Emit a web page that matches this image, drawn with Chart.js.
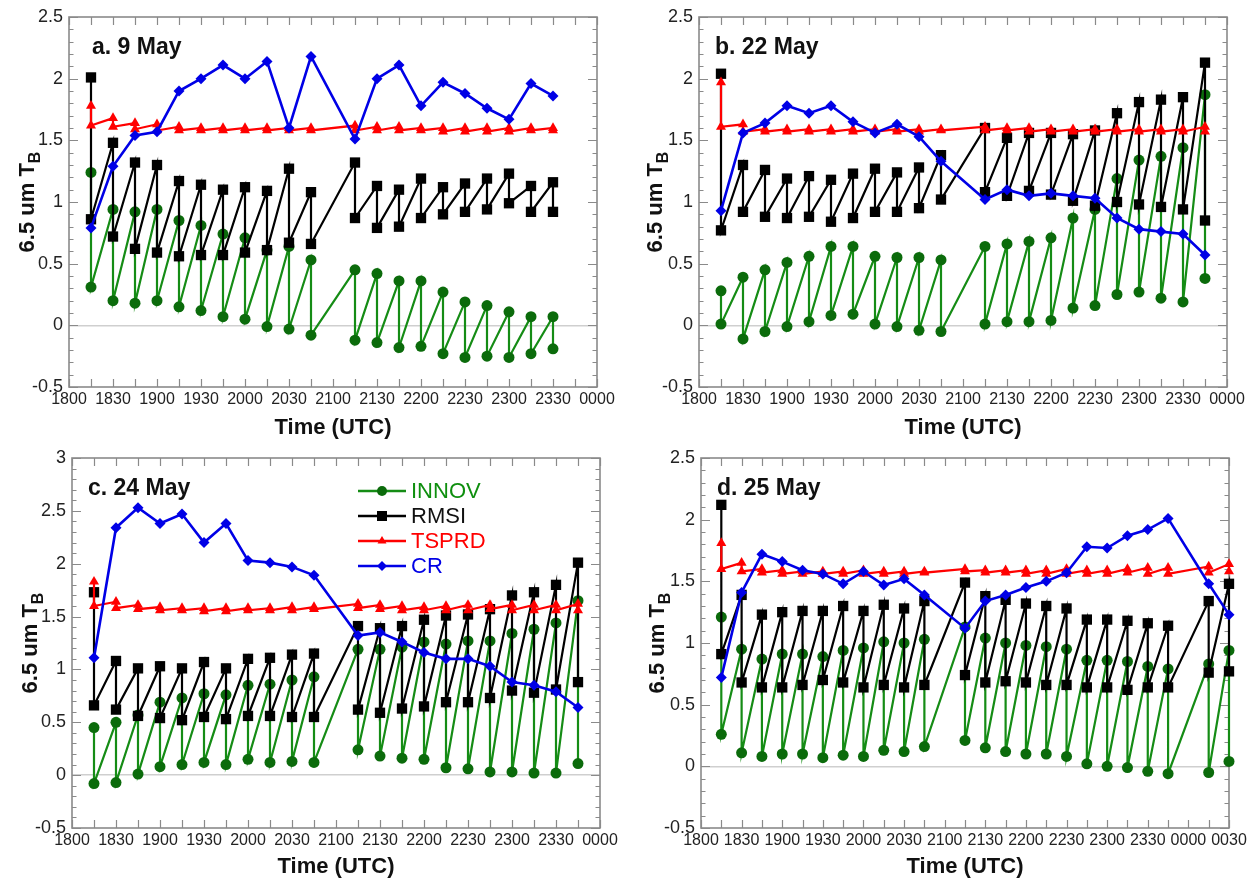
<!DOCTYPE html>
<html>
<head>
<meta charset="utf-8">
<script src="https://cdn.jsdelivr.net/npm/chart.js@4.4.1/dist/chart.umd.min.js"></script>
<style>
html,body{margin:0;padding:0;background:#fff;}
#wrap{position:relative;width:1255px;height:881px;overflow:hidden;font-family:'Liberation Sans',Arial,Helvetica,sans-serif;}
canvas{position:absolute;}
.ptitle{position:absolute;font-weight:bold;font-size:23px;line-height:23px;color:#111;white-space:nowrap;}
.xtitle{position:absolute;width:300px;height:26px;line-height:26px;text-align:center;font-weight:bold;font-size:22px;color:#111;white-space:nowrap;}
.ytitle{position:absolute;width:240px;height:30px;line-height:30px;text-align:center;font-weight:bold;font-size:22px;color:#111;transform:rotate(-90deg);white-space:nowrap;}
.ytitle sub{font-size:16px;vertical-align:-6px;line-height:0;}
.legsvg{position:absolute;}
.legtxt{position:absolute;font-size:22px;height:26px;line-height:26px;white-space:nowrap;}
</style>
</head>
<body>
<div id="wrap">
  <canvas id="cA" width="627" height="440" style="left:0px;top:0px;width:627px;height:440px"></canvas>
  <canvas id="cB" width="628" height="440" style="left:627px;top:0px;width:628px;height:440px"></canvas>
  <canvas id="cC" width="627" height="441" style="left:0px;top:440px;width:627px;height:441px"></canvas>
  <canvas id="cD" width="628" height="441" style="left:627px;top:440px;width:628px;height:441px"></canvas>

  <div class="ptitle" style="left:92px;top:35px">a. 9 May</div>
  <div class="ptitle" style="left:715px;top:35px">b. 22 May</div>
  <div class="ptitle" style="left:88px;top:476px">c. 24 May</div>
  <div class="ptitle" style="left:717px;top:476px">d. 25 May</div>

  <div class="xtitle" style="left:183px;top:414px">Time (UTC)</div>
  <div class="xtitle" style="left:813px;top:414px">Time (UTC)</div>
  <div class="xtitle" style="left:186px;top:853px">Time (UTC)</div>
  <div class="xtitle" style="left:815px;top:853px">Time (UTC)</div>

  <div class="ytitle" style="left:-93px;top:187px">6.5 um T<sub>B</sub></div>
  <div class="ytitle" style="left:535px;top:187px">6.5 um T<sub>B</sub></div>
  <div class="ytitle" style="left:-90px;top:628px">6.5 um T<sub>B</sub></div>
  <div class="ytitle" style="left:537px;top:628px">6.5 um T<sub>B</sub></div>

  <div id="legend"></div>
</div>
<script>
// ---------------- DATA ----------------
// time in minutes after 1800 UTC
const timesA = [15,30,45,60,75,90,105,120,135,150,165,195,210,225,240,255,270,285,300,315,330];
const timesBC = [15,30,45,60,75,90,105,120,135,150,165,195,210,225,240,255,270,285,300,315,330,345];
const timesD = [15,30,45,60,75,90,105,120,135,150,165,195,210,225,240,255,270,285,300,315,330,345,375,390];

const xTickLabels6h = ['1800','1830','1900','1930','2000','2030','2100','2130','2200','2230','2300','2330','0000'];
const xTickLabels65h = ['1800','1830','1900','1930','2000','2030','2100','2130','2200','2230','2300','2330','0000','0030'];
const yTickLabels25 = ['-0.5','0','0.5','1','1.5','2','2.5'];
const yTickLabels30 = ['-0.5','0','0.5','1','1.5','2','2.5','3'];

const seriesNames = ['INNOV','RMSI','TSPRD','CR'];

// Panel a: 9 May
const aInnovPrior = [1.24,0.94,0.92,0.94,0.85,0.81,0.74,0.71,0.61,0.64,0.53,0.45,0.42,0.36,0.36,0.27,0.19,0.16,0.11,0.07,0.07];
const aInnovPost  = [0.31,0.20,0.18,0.20,0.15,0.12,0.07,0.05,-0.01,-0.03,-0.08,-0.12,-0.14,-0.18,-0.17,-0.23,-0.26,-0.25,-0.26,-0.23,-0.19];
const aRmsiPrior  = [2.01,1.48,1.32,1.30,1.17,1.14,1.10,1.12,1.09,1.27,1.08,1.32,1.13,1.10,1.19,1.12,1.15,1.19,1.23,1.13,1.16];
const aRmsiPost   = [0.86,0.72,0.62,0.59,0.56,0.57,0.57,0.59,0.61,0.67,0.66,0.87,0.79,0.80,0.87,0.90,0.92,0.94,0.99,0.92,0.92];
const aTsprdPrior = [1.78,1.68,1.64,1.63,1.61,1.60,1.60,1.60,1.60,1.60,1.60,1.62,1.61,1.61,1.60,1.60,1.60,1.60,1.60,1.60,1.60];
const aTsprdPost  = [1.62,1.61,1.59,1.58,1.58,1.58,1.58,1.58,1.58,1.58,1.58,1.58,1.58,1.58,1.58,1.57,1.57,1.57,1.57,1.58,1.58];
const aCr         = [0.79,1.29,1.54,1.57,1.90,2.00,2.11,2.00,2.14,1.60,2.18,1.51,2.00,2.11,1.78,1.97,1.88,1.76,1.67,1.96,1.86];

// Panel b: 22 May
const bInnovPrior = [0.28,0.39,0.45,0.51,0.56,0.64,0.64,0.56,0.55,0.55,0.53,0.64,0.66,0.68,0.71,0.87,0.94,1.19,1.34,1.37,1.44,1.87];
const bInnovPost  = [0.01,-0.11,-0.05,-0.01,0.03,0.08,0.09,0.01,-0.01,-0.04,-0.05,0.01,0.03,0.03,0.04,0.14,0.16,0.25,0.27,0.22,0.19,0.38];
const bRmsiPrior  = [2.04,1.30,1.26,1.19,1.21,1.18,1.23,1.27,1.24,1.28,1.38,1.60,1.52,1.56,1.56,1.55,1.58,1.72,1.81,1.83,1.85,2.13];
const bRmsiPost   = [0.77,0.92,0.88,0.87,0.88,0.84,0.87,0.92,0.92,0.95,1.02,1.08,1.05,1.09,1.06,1.01,0.97,1.00,0.98,0.96,0.94,0.85];
const bTsprdPrior = [1.97,1.63,1.59,1.59,1.59,1.59,1.59,1.59,1.59,1.59,1.59,1.61,1.60,1.60,1.59,1.59,1.59,1.59,1.59,1.59,1.59,1.61];
const bTsprdPost  = [1.61,1.57,1.57,1.57,1.57,1.57,1.57,1.57,1.57,1.57,1.58,1.58,1.58,1.57,1.57,1.57,1.57,1.57,1.57,1.57,1.57,1.57];
const bCr         = [0.93,1.56,1.64,1.78,1.72,1.78,1.65,1.56,1.63,1.53,1.33,1.02,1.10,1.05,1.07,1.05,1.03,0.87,0.78,0.76,0.74,0.57];

// Panel c: 24 May
const cInnovPrior = [0.45,0.50,0.57,0.69,0.73,0.77,0.76,0.85,0.86,0.90,0.93,1.19,1.19,1.21,1.26,1.24,1.27,1.27,1.34,1.38,1.44,1.65];
const cInnovPost  = [-0.08,-0.07,0.01,0.08,0.10,0.12,0.10,0.15,0.12,0.13,0.12,0.24,0.18,0.16,0.15,0.07,0.06,0.03,0.03,0.02,0.02,0.11];
const cRmsiPrior  = [1.73,1.08,1.01,1.03,1.01,1.07,1.01,1.10,1.11,1.14,1.15,1.41,1.39,1.41,1.47,1.51,1.52,1.57,1.70,1.73,1.80,2.01];
const cRmsiPost   = [0.66,0.62,0.56,0.54,0.52,0.55,0.53,0.56,0.56,0.55,0.55,0.62,0.59,0.63,0.65,0.69,0.69,0.73,0.80,0.78,0.81,0.88];
const cTsprdPrior = [1.83,1.64,1.61,1.59,1.58,1.58,1.58,1.58,1.58,1.59,1.59,1.62,1.61,1.60,1.59,1.60,1.61,1.61,1.61,1.61,1.61,1.62];
const cTsprdPost  = [1.60,1.58,1.57,1.56,1.56,1.55,1.55,1.56,1.56,1.56,1.57,1.58,1.57,1.56,1.56,1.56,1.56,1.57,1.56,1.56,1.56,1.56];
const cCr         = [1.11,2.34,2.53,2.38,2.47,2.20,2.38,2.03,2.01,1.97,1.89,1.32,1.35,1.26,1.16,1.10,1.10,1.03,0.88,0.85,0.79,0.64];

// Panel d: 25 May
const dInnovPrior = [1.21,0.95,0.87,0.91,0.91,0.89,0.94,0.96,1.01,1.00,1.03,1.13,1.04,1.00,0.98,0.97,0.95,0.86,0.86,0.85,0.81,0.79,0.83,0.94];
const dInnovPost  = [0.26,0.11,0.08,0.10,0.10,0.07,0.09,0.08,0.13,0.12,0.16,0.21,0.15,0.12,0.10,0.10,0.08,0.02,0.00,-0.01,-0.04,-0.06,-0.05,0.04];
const dRmsiPrior  = [2.12,1.39,1.23,1.25,1.26,1.26,1.30,1.26,1.31,1.28,1.34,1.49,1.38,1.35,1.32,1.30,1.28,1.19,1.19,1.18,1.16,1.14,1.34,1.48];
const dRmsiPost   = [0.91,0.68,0.64,0.64,0.66,0.70,0.68,0.64,0.66,0.64,0.66,0.74,0.68,0.69,0.68,0.66,0.66,0.64,0.64,0.62,0.64,0.64,0.76,0.77];
const dTsprdPrior = [1.81,1.65,1.60,1.59,1.58,1.58,1.58,1.59,1.58,1.58,1.58,1.60,1.59,1.59,1.59,1.59,1.60,1.59,1.59,1.60,1.61,1.61,1.62,1.64];
const dTsprdPost  = [1.60,1.58,1.57,1.56,1.56,1.56,1.56,1.56,1.56,1.56,1.57,1.58,1.57,1.57,1.56,1.56,1.56,1.56,1.56,1.57,1.56,1.56,1.57,1.58];
const dCr         = [0.72,1.41,1.72,1.66,1.59,1.56,1.48,1.58,1.47,1.52,1.39,1.12,1.34,1.39,1.45,1.50,1.57,1.78,1.77,1.87,1.92,2.01,1.48,1.23];

// ---------------- STYLE ----------------
const COL = {
  innovLine:'#158c15', innovPt:'#0b6b0b',
  rmsi:'#000000', tsprd:'#ff0000', cr:'#0000e6',
  frame:'#8a8a8a', tickTxt:'#222222', zero:'#cfcfcf'
};
const FONT = "'Liberation Sans', Arial, Helvetica, sans-serif";

function sawtooth(times, prior, post){
  const pts = [];
  times.forEach((t,i)=>{ pts.push({x:t, y:prior[i]}); pts.push({x:t, y:post[i]}); });
  return pts;
}
function single(times, vals){ return times.map((t,i)=>({x:t, y:vals[i]})); }

const framePlugin = {
  id:'frameTicks',
  beforeDatasetsDraw(chart){
    const {ctx, chartArea:a, scales:{x,y}} = chart;
    ctx.save();
    ctx.strokeStyle = COL.frame;
    ctx.lineWidth = 1.2;
    ctx.beginPath();
    for(let v = x.min; v <= x.max + 1e-6; v += 15){
      const px = Math.round(x.getPixelForValue(v)) + 0.5;
      ctx.moveTo(px, a.bottom); ctx.lineTo(px, a.bottom - 8);
      ctx.moveTo(px, a.top); ctx.lineTo(px, a.top + 8);
    }
    const k0 = Math.round(y.min*10), k1 = Math.round(y.max*10);
    for(let k = k0; k <= k1; k++){
      const py = Math.round(y.getPixelForValue(k/10)) + 0.5;
      const len = (k % 5 === 0) ? 9 : 4.5;
      ctx.moveTo(a.left, py); ctx.lineTo(a.left + len, py);
      ctx.moveTo(a.right, py); ctx.lineTo(a.right - len, py);
    }
    ctx.stroke();
    ctx.lineWidth = 1.6;
    ctx.strokeRect(a.left, a.top, a.right - a.left, a.bottom - a.top);
    ctx.restore();
  }
};

function makePanel(id, geom, times, innovPrior, innovPost, rmsiPrior, rmsiPost, tsprdPrior, tsprdPost, cr, xLabels, yLabels){
  const xMax = (xLabels.length - 1) * 30;
  const yMin = parseFloat(yLabels[0]), yMax = parseFloat(yLabels[yLabels.length-1]);
  new Chart(document.getElementById(id), {
    type:'line',
    data:{
      datasets:[
        { label:seriesNames[0], data:sawtooth(times, innovPrior, innovPost), borderColor:COL.innovLine, borderWidth:2.2,
          pointStyle:'circle', pointRadius:5.5, pointBackgroundColor:COL.innovPt, pointBorderColor:COL.innovPt, pointBorderWidth:0, order:3, clip:false },
        { label:seriesNames[1], data:sawtooth(times, rmsiPrior, rmsiPost), borderColor:COL.rmsi, borderWidth:2.2,
          pointStyle:'rect', pointRadius:7.3, pointBackgroundColor:COL.rmsi, pointBorderColor:COL.rmsi, pointBorderWidth:0, order:2, clip:false },
        { label:seriesNames[2], data:sawtooth(times, tsprdPrior, tsprdPost), borderColor:COL.tsprd, borderWidth:2.2,
          pointStyle:'triangle', pointRadius:5.8, pointBackgroundColor:COL.tsprd, pointBorderColor:COL.tsprd, pointBorderWidth:0, order:1, clip:false },
        { label:seriesNames[3], data:single(times, cr), borderColor:COL.cr, borderWidth:2.6,
          pointStyle:'rectRot', pointRadius:5.5, pointBackgroundColor:COL.cr, pointBorderColor:COL.cr, pointBorderWidth:0, order:0, clip:false }
      ]
    },
    options:{
      responsive:false, animation:false, devicePixelRatio:1, events:[],
      elements:{ line:{tension:0, fill:false} },
      layout:{ padding:{left:0, top:geom.top, right:geom.right, bottom:0} },
      plugins:{ legend:{display:false}, tooltip:{enabled:false} },
      scales:{
        x:{
          type:'linear', min:0, max:xMax,
          afterBuildTicks:(s)=>{ s.ticks = xLabels.map((l,i)=>({value:i*30})); },
          afterFit:(s)=>{ s.height = geom.xH; },
          grid:{display:false, drawTicks:false},
          border:{display:false},
          ticks:{ autoSkip:false, maxRotation:0, minRotation:0, padding:3, color:COL.tickTxt,
                  font:{family:FONT, size:16}, callback:(v,i)=>xLabels[i] }
        },
        y:{
          type:'linear', min:yMin, max:yMax,
          afterBuildTicks:(s)=>{ s.ticks = yLabels.map(l=>({value:parseFloat(l)})); },
          afterFit:(s)=>{ s.width = geom.left; },
          grid:{ drawTicks:false, lineWidth:1.5,
                 color:(c)=> (c.tick && Math.abs(c.tick.value) < 1e-9) ? COL.zero : 'rgba(0,0,0,0)' },
          border:{display:false},
          ticks:{ padding:6, color:COL.tickTxt, font:{family:FONT, size:18}, callback:(v,i)=>yLabels[i] }
        }
      }
    },
    plugins:[framePlugin]
  });
}

makePanel('cA', {left:69, top:17, right:30, xH:53}, timesA, aInnovPrior, aInnovPost, aRmsiPrior, aRmsiPost, aTsprdPrior, aTsprdPost, aCr, xTickLabels6h, yTickLabels25);
makePanel('cB', {left:72, top:17, right:28, xH:53}, timesBC, bInnovPrior, bInnovPost, bRmsiPrior, bRmsiPost, bTsprdPrior, bTsprdPost, bCr, xTickLabels6h, yTickLabels25);
makePanel('cC', {left:72, top:18, right:27, xH:53}, timesBC, cInnovPrior, cInnovPost, cRmsiPrior, cRmsiPost, cTsprdPrior, cTsprdPost, cCr, xTickLabels6h, yTickLabels30);
makePanel('cD', {left:74, top:18, right:26, xH:53}, timesD, dInnovPrior, dInnovPost, dRmsiPrior, dRmsiPost, dTsprdPrior, dTsprdPost, dCr, xTickLabels65h, yTickLabels25);

// ---------------- LEGEND (panel c) ----------------
(function(){
  const leg = document.getElementById('legend');
  const rows = [
    {name:seriesNames[0], line:COL.innovLine, mk:COL.innovPt, txt:'#0f8f0f', shape:'circle'},
    {name:seriesNames[1], line:COL.rmsi, mk:COL.rmsi, txt:'#111111', shape:'rect'},
    {name:seriesNames[2], line:COL.tsprd, mk:COL.tsprd, txt:'#ff0000', shape:'triangle'},
    {name:seriesNames[3], line:COL.cr, mk:COL.cr, txt:'#0000e6', shape:'diamond'}
  ];
  const yc = [491, 516, 541, 566];
  rows.forEach((r,i)=>{
    let mk = '';
    if(r.shape==='circle') mk = `<circle cx="24" cy="10" r="5" fill="${r.mk}"/>`;
    if(r.shape==='rect') mk = `<rect x="19" y="5" width="10" height="10" fill="${r.mk}"/>`;
    if(r.shape==='triangle') mk = `<polygon points="24,5 28.5,12.5 19.5,12.5" fill="${r.mk}"/>`;
    if(r.shape==='diamond') mk = `<polygon points="24,5 29,10 24,15 19,10" fill="${r.mk}"/>`;
    leg.insertAdjacentHTML('beforeend',
      `<svg class="legsvg" width="48" height="20" style="left:358px;top:${yc[i]-10}px"><line x1="0" y1="10" x2="48" y2="10" stroke="${r.line}" stroke-width="2.5"/>${mk}</svg>` +
      `<div class="legtxt" style="left:411px;top:${yc[i]-13}px;color:${r.txt}">${r.name}</div>`);
  });
})();
</script>
</body>
</html>
